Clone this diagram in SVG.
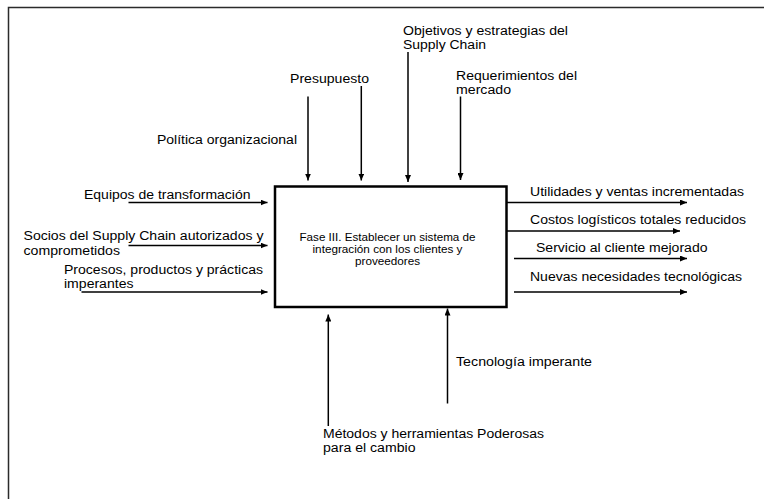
<svg xmlns="http://www.w3.org/2000/svg" width="764" height="499" viewBox="0 0 764 499">
  <style>
    .lbl { font-family: "Liberation Sans", Arial, sans-serif; font-size: 12px; fill: #000; }
    .box-lbl { font-family: "Liberation Sans", Arial, sans-serif; font-size: 10px; fill: #000; }
    .arrow { stroke: #000; stroke-width: 1.5; fill: none; marker-end: url(#head); }
    .frame { stroke: #2b2b2b; stroke-width: 1.5; fill: none; }
  </style>
  <defs>
    <marker id="head" markerUnits="userSpaceOnUse" markerWidth="7" markerHeight="6" refX="7" refY="3" orient="auto">
      <path d="M0,0 L7,3 L0,6 z" fill="#000"/>
    </marker>
  </defs>

  <rect width="764" height="499" fill="#fff"/>
  <!-- page frame -->
  <path class="frame" d="M8.5,499 V7.5 H764"/>

  <!-- central activity -->
  <g id="activity">
    <rect x="275" y="186.5" width="231.5" height="120.5" fill="#fff" stroke="#000" stroke-width="2.5"/>
    <text class="box-lbl" text-anchor="middle" x="387.5" y="241" textLength="176" lengthAdjust="spacingAndGlyphs">Fase III. Establecer un sistema de</text>
    <text class="box-lbl" text-anchor="middle" x="387.5" y="253" textLength="150" lengthAdjust="spacingAndGlyphs">integración con los clientes y</text>
    <text class="box-lbl" text-anchor="middle" x="387.5" y="265" textLength="65" lengthAdjust="spacingAndGlyphs">proveedores</text>
  </g>

  <!-- controls (top) -->
  <g id="politica">
    <text class="lbl" x="157" y="143.5" textLength="140" lengthAdjust="spacingAndGlyphs">Política organizacional</text>
  </g>
  <g id="presupuesto">
    <text class="lbl" x="290" y="82.5" textLength="79" lengthAdjust="spacingAndGlyphs">Presupuesto</text>
  </g>
  <g id="objetivos">
    <text class="lbl" x="403" y="34.5" textLength="165" lengthAdjust="spacingAndGlyphs">Objetivos y estrategias del</text>
    <text class="lbl" x="403" y="48.5" textLength="83" lengthAdjust="spacingAndGlyphs">Supply Chain</text>
  </g>
  <g id="requerimientos">
    <text class="lbl" x="456" y="79.5" textLength="121" lengthAdjust="spacingAndGlyphs">Requerimientos del</text>
    <text class="lbl" x="456" y="93.5" textLength="55" lengthAdjust="spacingAndGlyphs">mercado</text>
  </g>

  <!-- inputs (left) -->
  <g id="equipos">
    <text class="lbl" x="84" y="199" textLength="166.5" lengthAdjust="spacingAndGlyphs">Equipos de transformación</text>
  </g>
  <g id="socios">
    <text class="lbl" x="23.5" y="240" textLength="240" lengthAdjust="spacingAndGlyphs">Socios del Supply Chain autorizados y</text>
    <text class="lbl" x="23.5" y="254.5" textLength="96.5" lengthAdjust="spacingAndGlyphs">comprometidos</text>
  </g>
  <g id="procesos">
    <text class="lbl" x="64" y="274" textLength="199" lengthAdjust="spacingAndGlyphs">Procesos, productos y prácticas</text>
    <text class="lbl" x="64" y="288" textLength="69.5" lengthAdjust="spacingAndGlyphs">imperantes</text>
  </g>

  <!-- outputs (right) -->
  <g id="utilidades">
    <text class="lbl" x="530" y="196" textLength="214" lengthAdjust="spacingAndGlyphs">Utilidades y ventas incrementadas</text>
  </g>
  <g id="costos">
    <text class="lbl" x="530" y="224" textLength="216" lengthAdjust="spacingAndGlyphs">Costos logísticos totales reducidos</text>
  </g>
  <g id="servicio">
    <text class="lbl" x="536" y="251.5" textLength="171.5" lengthAdjust="spacingAndGlyphs">Servicio al cliente mejorado</text>
  </g>
  <g id="nuevas">
    <text class="lbl" x="530" y="281" textLength="212" lengthAdjust="spacingAndGlyphs">Nuevas necesidades tecnológicas</text>
  </g>

  <!-- mechanisms (bottom) -->
  <g id="tecnologia">
    <text class="lbl" x="456" y="365.5" textLength="136" lengthAdjust="spacingAndGlyphs">Tecnología imperante</text>
  </g>
  <g id="metodos">
    <text class="lbl" x="323" y="438" textLength="221" lengthAdjust="spacingAndGlyphs">Métodos y herramientas Poderosas</text>
    <text class="lbl" x="323" y="451.5" textLength="92.5" lengthAdjust="spacingAndGlyphs">para el cambio</text>
  </g>

  <!-- connectors -->
  <g id="connectors">
    <line class="arrow" x1="308" y1="96.5" x2="308" y2="180.5"/>
    <line class="arrow" x1="361.3" y1="86" x2="361.3" y2="180.5"/>
    <line class="arrow" x1="408" y1="52" x2="408" y2="182"/>
    <line class="arrow" x1="460.5" y1="96.5" x2="460.5" y2="180"/>

    <line class="arrow" x1="128.5" y1="202.5" x2="267.5" y2="202.5"/>
    <line class="arrow" x1="128.5" y1="245.5" x2="267.5" y2="245.5"/>
    <line class="arrow" x1="81.5" y1="292" x2="267.5" y2="292"/>

    <line class="arrow" x1="507" y1="202.5" x2="687" y2="202.5"/>
    <line class="arrow" x1="507" y1="231" x2="680" y2="231"/>
    <line class="arrow" x1="514" y1="258.5" x2="687" y2="258.5"/>
    <line class="arrow" x1="514" y1="292" x2="687" y2="292"/>

    <line class="arrow" x1="328.3" y1="426" x2="328.3" y2="314.5"/>
    <line class="arrow" x1="447.5" y1="403.5" x2="447.5" y2="308.5"/>
  </g>
</svg>
